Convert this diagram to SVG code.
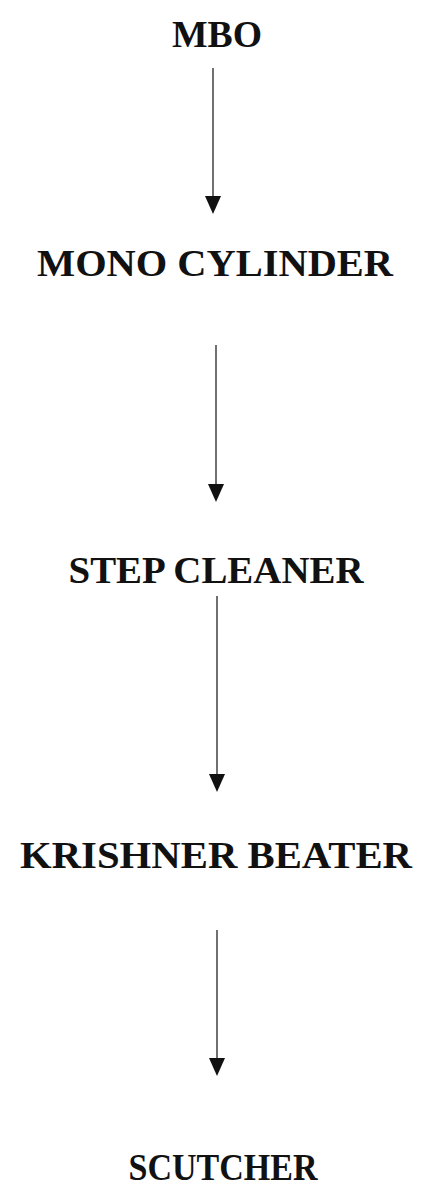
<svg xmlns="http://www.w3.org/2000/svg" width="432" height="1192" viewBox="0 0 432 1192">
<style>
.lbl{font-family:"Liberation Serif","Times New Roman",serif;font-weight:bold;font-size:37px;fill:#111;text-anchor:middle}
.ln{stroke:#111;stroke-width:1.2;fill:none}
.hd{fill:#111}
</style>
<rect width="432" height="1192" fill="#fff"/>
<g id="n1"><text class="lbl" x="217" y="47" textLength="90" lengthAdjust="spacingAndGlyphs">MBO</text></g>
<g id="n2"><text class="lbl" x="215" y="276" textLength="356" lengthAdjust="spacingAndGlyphs">MONO CYLINDER</text></g>
<g id="n3"><text class="lbl" x="216" y="583" textLength="295" lengthAdjust="spacingAndGlyphs">STEP CLEANER</text></g>
<g id="n4"><text class="lbl" x="216" y="868" textLength="392" lengthAdjust="spacingAndGlyphs">KRISHNER BEATER</text></g>
<g id="n5"><text class="lbl" x="223" y="1180" textLength="189" lengthAdjust="spacingAndGlyphs">SCUTCHER</text></g>
<g id="connectors">
<line class="ln" x1="213" y1="68" x2="213" y2="200"/><polygon class="hd" points="205,196 221,196 213,214"/>
<line class="ln" x1="216" y1="345" x2="216" y2="488"/><polygon class="hd" points="208,484 224,484 216,502"/>
<line class="ln" x1="217" y1="596" x2="217" y2="778"/><polygon class="hd" points="209,774 225,774 217,792"/>
<line class="ln" x1="217" y1="930" x2="217" y2="1062"/><polygon class="hd" points="209,1058 225,1058 217,1076"/>
</g>
</svg>
